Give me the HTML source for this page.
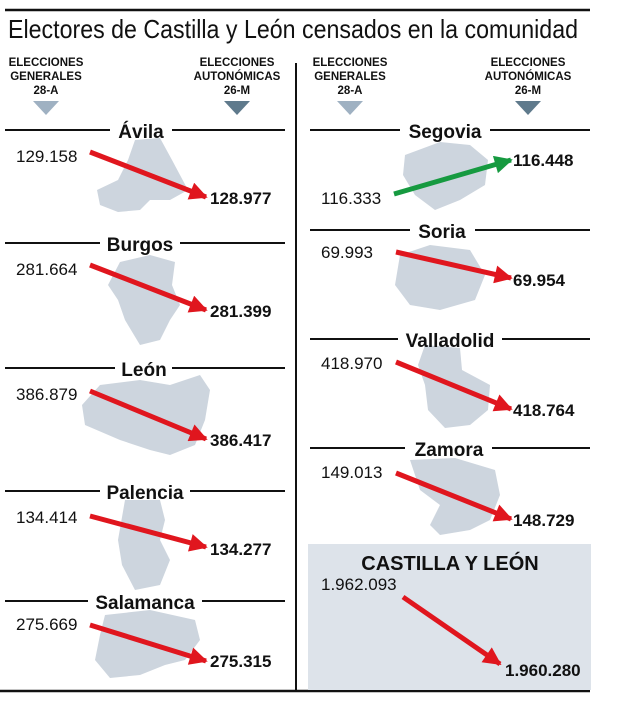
<!DOCTYPE html>
<html><head><meta charset="utf-8"><style>
html,body{margin:0;padding:0;background:#fff;}
svg{display:block;}
text{font-family:"Liberation Sans","DejaVu Sans",sans-serif;fill:#111;}
.h{font-size:11.5px;font-weight:bold;text-anchor:middle;}
.n{font-size:19px;font-weight:bold;text-anchor:middle;}
.v{font-size:17px;}
.b{font-size:17px;font-weight:bold;}
.m{fill:#cdd5de;}
</style></head><body>
<svg width="624" height="710" viewBox="0 0 624 710" xmlns="http://www.w3.org/2000/svg">
<defs>
<marker id="ar" viewBox="0 0 10 10" refX="9" refY="5" markerWidth="4.2" markerHeight="3.6" orient="auto" markerUnits="strokeWidth"><path d="M0,0 L10,5 L0,10 z" fill="#e0161e"/></marker>
<marker id="ag" viewBox="0 0 10 10" refX="9" refY="5" markerWidth="4.2" markerHeight="3.6" orient="auto" markerUnits="strokeWidth"><path d="M0,0 L10,5 L0,10 z" fill="#169a40"/></marker>
</defs>
<line x1="5" y1="10" x2="590" y2="10" stroke="#111" stroke-width="2.5"/>
<text x="8" y="38" style="font-size:26px" textLength="570" lengthAdjust="spacingAndGlyphs">Electores de Castilla y León censados en la comunidad</text>
<line x1="296" y1="63" x2="296" y2="690" stroke="#111" stroke-width="2"/>
<line x1="0" y1="691" x2="590" y2="691" stroke="#111" stroke-width="2.5"/>

<!-- headers -->
<g>
<text class="h" x="46" y="66">ELECCIONES</text><text class="h" x="46" y="80">GENERALES</text><text class="h" x="46" y="94">28-A</text>
<path d="M33,101 L59,101 L46,115 z" fill="#9fb1c2"/>
<text class="h" x="237" y="66">ELECCIONES</text><text class="h" x="237" y="80">AUTONÓMICAS</text><text class="h" x="237" y="94">26-M</text>
<path d="M224,101 L250,101 L237,115 z" fill="#5f7a8c"/>
<text class="h" x="350" y="66">ELECCIONES</text><text class="h" x="350" y="80">GENERALES</text><text class="h" x="350" y="94">28-A</text>
<path d="M337,101 L363,101 L350,115 z" fill="#9fb1c2"/>
<text class="h" x="528" y="66">ELECCIONES</text><text class="h" x="528" y="80">AUTONÓMICAS</text><text class="h" x="528" y="94">26-M</text>
<path d="M515,101 L541,101 L528,115 z" fill="#5f7a8c"/>
</g>

<!-- maps -->
<path class="m" d="M135,140 L160,138 L172,160 L180,175 L188,190 L170,200 L150,200 L140,210 L118,212 L100,205 L97,190 L118,180 L128,160 z"/>
<path class="m" d="M120,262 L150,255 L175,262 L172,285 L180,305 L170,320 L160,340 L140,345 L125,320 L118,300 L108,285 z"/>
<path class="m" d="M100,385 L140,380 L170,385 L200,375 L210,390 L205,420 L195,445 L170,455 L150,450 L120,440 L85,425 L82,405 z"/>
<path class="m" d="M125,500 L160,500 L165,520 L160,540 L170,560 L160,585 L135,590 L122,565 L118,540 z"/>
<path class="m" d="M105,615 L150,610 L195,620 L200,640 L185,660 L165,665 L140,675 L110,678 L95,660 L100,635 z"/>
<path class="m" d="M405,155 L440,142 L470,145 L488,160 L485,185 L460,200 L435,210 L415,195 L403,175 z"/>
<path class="m" d="M400,255 L430,245 L470,250 L485,275 L475,300 L440,310 L410,305 L395,285 z"/>
<path class="m" d="M425,345 L460,348 L462,370 L490,385 L488,410 L470,425 L445,428 L428,410 L425,385 L418,365 z"/>
<path class="m" d="M410,460 L455,458 L495,470 L500,495 L490,520 L470,530 L440,535 L430,525 L440,505 L420,490 z"/>

<!-- left sections -->
<g stroke="#111" stroke-width="2">
<line x1="5" y1="130" x2="110" y2="130"/><line x1="172" y1="130" x2="285" y2="130"/>
<line x1="5" y1="243" x2="100" y2="243"/><line x1="180" y1="243" x2="285" y2="243"/>
<line x1="5" y1="368" x2="115" y2="368"/><line x1="172" y1="368" x2="285" y2="368"/>
<line x1="5" y1="491" x2="100" y2="491"/><line x1="190" y1="491" x2="285" y2="491"/>
<line x1="5" y1="601" x2="88" y2="601"/><line x1="202" y1="601" x2="285" y2="601"/>
<line x1="310" y1="130" x2="400" y2="130"/><line x1="490" y1="130" x2="590" y2="130"/>
<line x1="310" y1="230" x2="410" y2="230"/><line x1="475" y1="230" x2="590" y2="230"/>
<line x1="310" y1="339" x2="398" y2="339"/><line x1="502" y1="339" x2="590" y2="339"/>
<line x1="310" y1="448" x2="405" y2="448"/><line x1="492" y1="448" x2="590" y2="448"/>
</g>
<text class="n" x="141" y="138">Ávila</text>
<text class="n" x="140" y="251">Burgos</text>
<text class="n" x="144" y="376">León</text>
<text class="n" x="145" y="499">Palencia</text>
<text class="n" x="145" y="609">Salamanca</text>
<text class="n" x="445" y="138">Segovia</text>
<text class="n" x="442" y="238">Soria</text>
<text class="n" x="450" y="347">Valladolid</text>
<text class="n" x="449" y="456">Zamora</text>

<g stroke="#e0161e" stroke-width="5" fill="none">
<line x1="90" y1="152" x2="206" y2="197" marker-end="url(#ar)"/>
<line x1="90" y1="265" x2="206" y2="310" marker-end="url(#ar)"/>
<line x1="90" y1="391" x2="206" y2="439" marker-end="url(#ar)"/>
<line x1="90" y1="516" x2="206" y2="547" marker-end="url(#ar)"/>
<line x1="90" y1="625" x2="206" y2="661" marker-end="url(#ar)"/>
<line x1="396" y1="252" x2="511" y2="278" marker-end="url(#ar)"/>
<line x1="396" y1="362" x2="511" y2="409" marker-end="url(#ar)"/>
<line x1="396" y1="473" x2="511" y2="519" marker-end="url(#ar)"/>
</g>
<line x1="394" y1="194" x2="511" y2="160" stroke="#169a40" stroke-width="5" marker-end="url(#ag)"/>

<text class="v" x="16" y="162">129.158</text><text class="b" x="210" y="204">128.977</text>
<text class="v" x="16" y="275">281.664</text><text class="b" x="210" y="317">281.399</text>
<text class="v" x="16" y="400">386.879</text><text class="b" x="210" y="446">386.417</text>
<text class="v" x="16" y="523">134.414</text><text class="b" x="210" y="555">134.277</text>
<text class="v" x="16" y="630">275.669</text><text class="b" x="210" y="667">275.315</text>
<text class="b" x="513" y="166">116.448</text><text class="v" x="321" y="204">116.333</text>
<text class="v" x="321" y="258">69.993</text><text class="b" x="513" y="286">69.954</text>
<text class="v" x="321" y="369">418.970</text><text class="b" x="513" y="416">418.764</text>
<text class="v" x="321" y="478">149.013</text><text class="b" x="513" y="526">148.729</text>

<rect x="308" y="544" width="283" height="146" fill="#dde3ea"/>
<text class="n" x="450" y="570" style="font-size:20px">CASTILLA Y LEÓN</text>
<text class="v" x="321" y="590">1.962.093</text>
<line x1="403" y1="597" x2="500" y2="664" stroke="#e0161e" stroke-width="5" marker-end="url(#ar)"/>
<text class="b" x="505" y="676">1.960.280</text>
</svg>
</body></html>
